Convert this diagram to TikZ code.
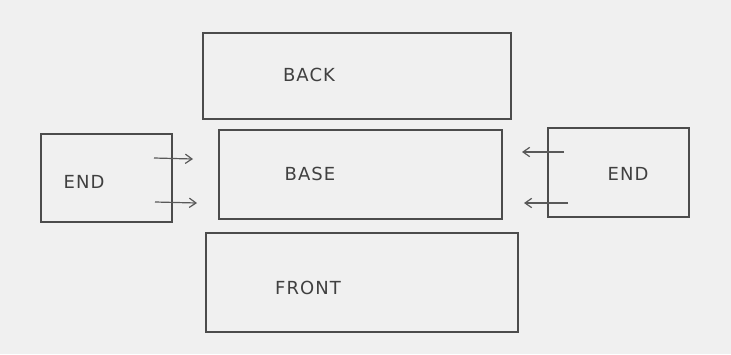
\documentclass[tikz,border=0pt]{standalone}
\usepackage{fontspec}
\setmainfont{DejaVu Sans}
\usetikzlibrary{arrows.meta}
\begin{document}
\begin{tikzpicture}[x=0.75pt,y=-0.75pt,
  box/.style 2 args={draw=black!70,line width=1.1pt,inner sep=0pt,outer sep=0pt,anchor=north west,
    minimum width=#1*0.75pt,minimum height=#2*0.75pt},
  lbl/.style={font=\fontsize{13.5}{15}\selectfont\addfontfeature{LetterSpace=6},text=black!75},
  arr/.style={draw=black!65,line width=0.9pt,-{Straight Barb[length=5pt,width=7pt]}}]
\fill[black!6] (0,0) rectangle (731,354);
\useasboundingbox (0,0) rectangle (731,354);
\node[box={308}{86}] (back) at (203,33) {};
\node[box={283}{89}] (base) at (219,130) {};
\node[box={312}{99}] (front) at (206,233) {};
\node[box={131}{88}] (lend) at (41,134) {};
\node[box={141}{89}] (rend) at (548,128) {};
\node[lbl] (tback) at (309,75) {BACK};
\node[lbl] (tbase) at (310,174) {BASE};
\node[lbl] (tfront) at (308,288) {FRONT};
\node[lbl] (tlend) at (84,182) {END};
\node[lbl] (trend) at (628,174) {END};
\coordinate (a1s) at (154,158);
\coordinate (a1e) at (193,159);
\coordinate (a2s) at (155,202);
\coordinate (a2e) at (197,203);
\coordinate (a3s) at (564,152);
\coordinate (a3e) at (522,152);
\coordinate (a4s) at (568,203);
\coordinate (a4e) at (524,203);
\draw[arr] (a1s) -- (a1e);
\draw[arr] (a2s) -- (a2e);
\draw[arr] (a3s) -- (a3e);
\draw[arr] (a4s) -- (a4e);
\end{tikzpicture}
\end{document}
